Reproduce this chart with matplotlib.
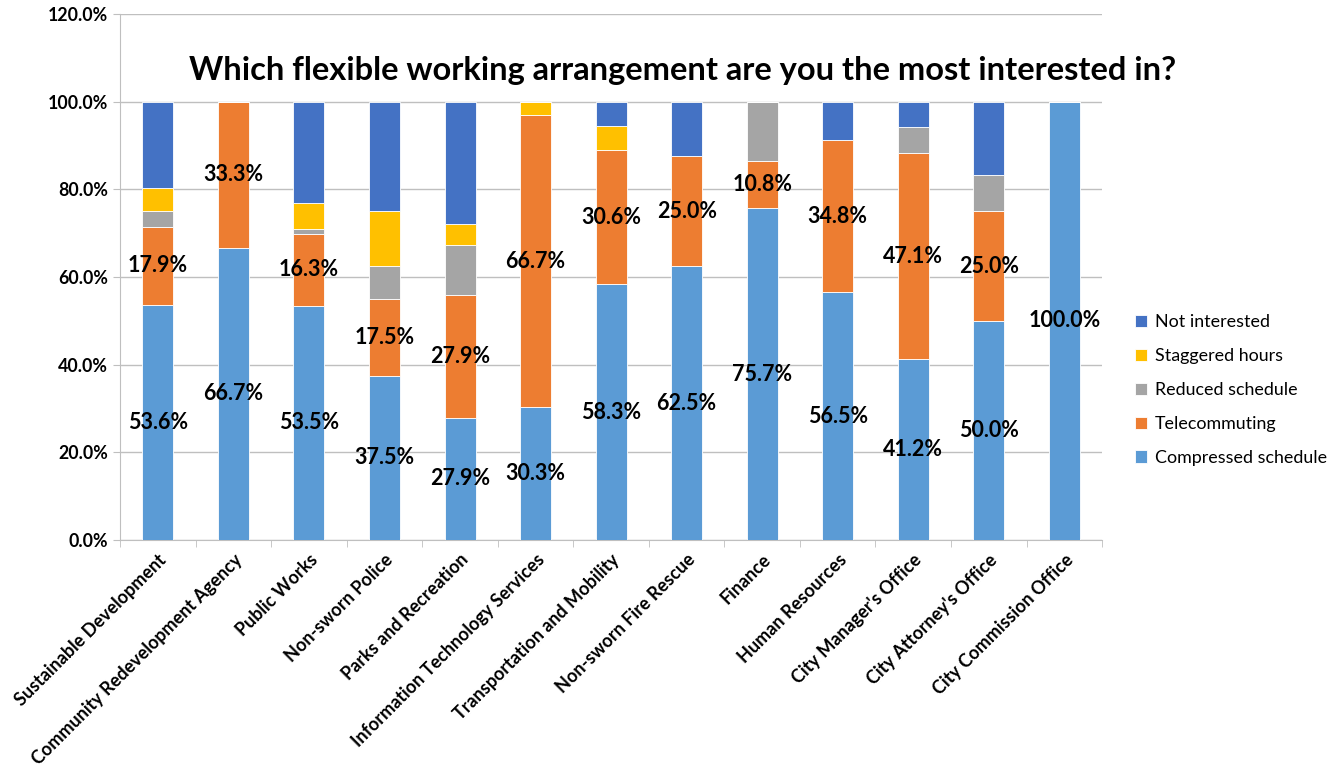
import numpy as np
import matplotlib.pyplot as plt
from matplotlib.ticker import PercentFormatter, FixedLocator

plt.rcParams['font.family'] = ['Lato', 'DejaVu Sans']

departments = ["Sustainable Development", "Community Redevelopment Agency", "Public Works",
               "Non-sworn Police", "Parks and Recreation", "Information Technology Services",
               "Transportation and Mobility", "Non-sworn Fire Rescue", "Finance",
               "Human Resources", "City Manager's Office", "City Attorney's Office",
               "City Commission Office"]

compressed = [53.6, 66.7, 53.5, 37.5, 27.9, 30.3, 58.3, 62.5, 75.7, 56.5, 41.2, 50.0, 100.0]
telecommuting = [17.9, 33.3, 16.3, 17.5, 27.9, 66.7, 30.6, 25.0, 10.8, 34.8, 47.1, 25.0, 0.0]
reduced = [3.5, 0.0, 1.2, 7.5, 11.6, 0.0, 0.0, 0.0, 13.5, 0.0, 5.9, 8.3, 0.0]
staggered = [5.4, 0.0, 5.8, 12.5, 4.7, 3.0, 5.6, 0.0, 0.0, 0.0, 0.0, 0.0, 0.0]
not_interested = [19.6, 0.0, 23.2, 25.0, 27.9, 0.0, 5.5, 12.5, 0.0, 8.7, 5.8, 16.7, 0.0]

series = [("Compressed schedule", compressed, "#5B9BD5"),
          ("Telecommuting", telecommuting, "#ED7D31"),
          ("Reduced schedule", reduced, "#A5A5A5"),
          ("Staggered hours", staggered, "#FFC000"),
          ("Not interested", not_interested, "#4472C4")]

fig = plt.figure(figsize=(13.35, 7.71), dpi=100)
ax = fig.add_axes([0.09, 0.2996, 0.7355, 0.6822])

x = np.arange(len(departments))
bottom = np.zeros(len(departments))
bars = {}
for name, vals, color in series:
    vals = np.array(vals)
    bars[name] = ax.bar(x, vals, 0.41, bottom=bottom, color=color, label=name,
                        edgecolor="white", linewidth=0.6, zorder=3)
    bottom += vals

# only the first two series carry labels
for name in ["Compressed schedule", "Telecommuting"]:
    for rect in bars[name]:
        h = rect.get_height()
        if h <= 0:
            continue
        ax.text(rect.get_x() + rect.get_width() / 2, rect.get_y() + h / 2,
                f"{h:.1f}%", ha="center", va="center", fontsize=15.5,
                fontweight="bold", zorder=4)

ax.set_ylim(0, 120)
ax.set_xlim(-0.5, len(departments) - 0.5)
ax.set_yticks(np.arange(0, 121, 20))
ax.yaxis.set_major_formatter(PercentFormatter(decimals=1))
ax.grid(axis="y", color="#BFBFBF", linewidth=1, zorder=0)

ax.set_xticks(x)
ax.set_xticklabels(departments, rotation=45, ha="right", rotation_mode="anchor",
                   fontsize=13, fontweight="bold")
ax.xaxis.set_minor_locator(FixedLocator(np.arange(-0.5, len(departments), 1)))
ax.tick_params(axis="x", which="major", length=0, pad=8)
ax.tick_params(axis="x", which="minor", length=5, color="#BFBFBF")
ax.tick_params(axis="y", length=5, color="#BFBFBF", labelsize=12.8, pad=4)
for lbl in ax.get_yticklabels():
    lbl.set_fontweight("bold")

for side in ["top", "right"]:
    ax.spines[side].set_visible(False)
for side in ["left", "bottom"]:
    ax.spines[side].set_color("#BFBFBF")

fig.text(0.511, 0.909, "Which flexible working arrangement are you the most interested in?",
         ha="center", va="center", fontsize=23.5, fontweight="bold")

handles, labels = ax.get_legend_handles_labels()
fig.legend(handles[::-1], labels[::-1], loc="center left", bbox_to_anchor=(0.838, 0.494),
           frameon=False, fontsize=12.9, handlelength=0.7, handleheight=0.7,
           labelspacing=1.0, handletextpad=0.4)

fig.savefig("out.png", dpi=100)
